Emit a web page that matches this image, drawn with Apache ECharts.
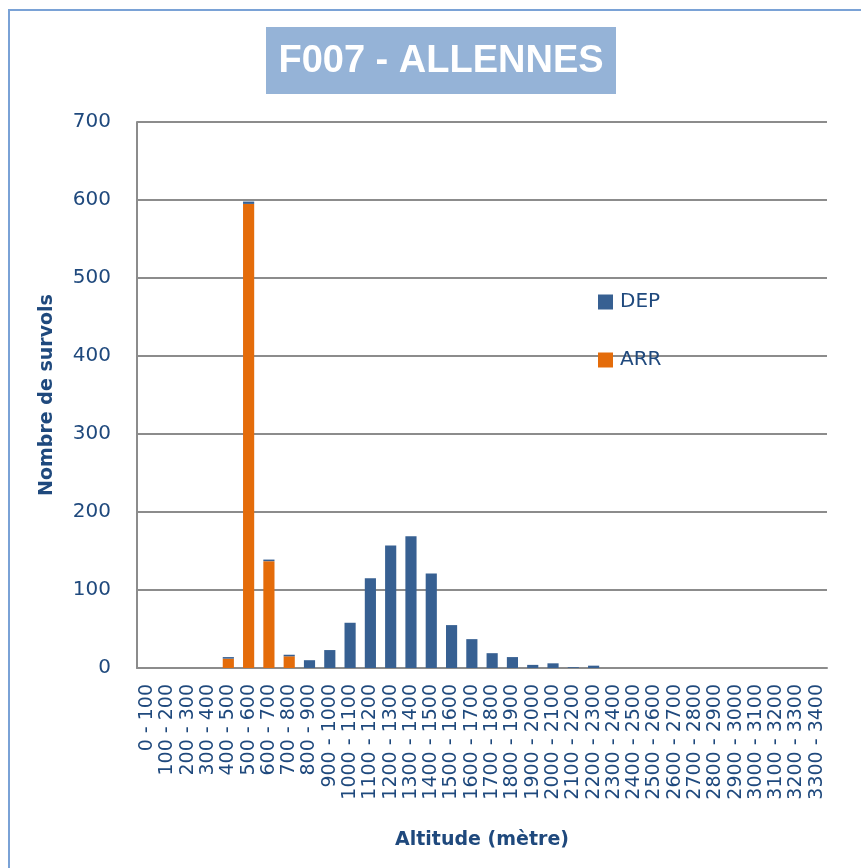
<!DOCTYPE html>
<html>
<head>
<meta charset="utf-8">
<script src="https://cdn.jsdelivr.net/npm/echarts@6/dist/echarts.min.js"></script>
<style>
  html, body { margin: 0; padding: 0; background: #fff; }
  #chart-area { width: 861px; height: 868px; }
</style>
</head>
<body>
<div id="chart-area"></div>
<script>
// tranches d'altitude
const altitudes = ['0 - 100', '100 - 200', '200 - 300', '300 - 400', '400 - 500', '500 - 600', '600 - 700',
	'700 - 800', '800 - 900', '900 - 1000', '1000 - 1100', '1100 - 1200', '1200 - 1300', '1300 - 1400',
	'1400 - 1500', '1500 - 1600', '1600 - 1700', '1700 - 1800', '1800 - 1900', '1900 - 2000', '2000 - 2100',
	'2100 - 2200', '2200 - 2300', '2300 - 2400', '2400 - 2500', '2500 - 2600', '2600 - 2700', '2700 - 2800',
	'2800 - 2900', '2900 - 3000', '3000 - 3100', '3100 - 3200', '3200 - 3300', '3300 - 3400']
const arrData = [0, 0, 0, 0, 12, 595, 137, 15, 0, 0, 0, 0, 0, 0, 0, 0, 0, 0, 0, 0, 0, 0, 0, 0, 0, 0, 0, 0, 0, 0, 0, 0, 0, 0]
const depData = [0, 0, 0, 0, 2, 3, 2, 2, 10, 23, 58, 115, 157, 169, 121, 55, 37, 19, 14, 4, 6, 1, 3, 0, 0, 0, 0, 0, 0, 0, 0, 0, 0, 0]
const yTicks = [0, 700, 100] // min, max, interval

const textColor = '#1F497D'
const gridColor = '#8C8C8C'

const myChart = echarts.init(document.getElementById('chart-area'))
const option = {
	animation: false,
	graphic: [
		{
			type: 'rect',
			shape: { x: 9, y: 10, width: 900, height: 900 },
			style: { fill: 'none', stroke: '#7AA2D6', lineWidth: 2 }
		},
		{
			type: 'rect',
			shape: { x: 266, y: 27, width: 350, height: 67 },
			style: { fill: '#95B3D7' }
		},
		{
			type: 'text',
			x: 441, y: 62,
			style: {
				text: 'F007 - ALLENNES',
				fill: '#fff',
				font: 'bold 38px "Liberation Sans", sans-serif',
				align: 'center',
				verticalAlign: 'middle'
			}
		}
	],
	grid: { show: false, left: 137, right: 34, top: 122, bottom: 200 },
	legend: {
		data: ['DEP', 'ARR'],
		orient: 'vertical',
		left: 593,
		top: 287,
		itemWidth: 15,
		itemHeight: 15,
		itemGap: 38,
		icon: 'rect',
		textStyle: { color: textColor, fontSize: 20, fontFamily: 'DejaVu Sans', padding: [0, 0, 0, 2] }
	},
	xAxis: {
		type: 'category',
		data: altitudes,
		name: 'Altitude (mètre)',
		nameLocation: 'middle',
		nameGap: 163,
		nameTextStyle: { color: textColor, fontSize: 19, fontWeight: 'bold', fontFamily: 'DejaVu Sans' },
		axisLine: { lineStyle: { color: gridColor, width: 2 } },
		axisTick: { show: false },
		splitLine: { show: false },
		splitArea: { show: false },
		axisLabel: {
			interval: 0,
			rotate: 90,
			margin: 16,
			color: textColor,
			fontSize: 19,
			fontFamily: 'DejaVu Sans'
		}
	},
	yAxis: {
		type: 'value',
		min: yTicks[0],
		max: yTicks[1],
		interval: yTicks[2],
		name: 'Nombre de survols',
		nameLocation: 'middle',
		nameGap: 80,
		nameTextStyle: { color: textColor, fontSize: 19, fontWeight: 'bold', fontFamily: 'DejaVu Sans' },
		axisLine: { show: true, lineStyle: { color: gridColor, width: 2 } },
		axisTick: { show: false },
		splitLine: { lineStyle: { color: gridColor, width: 2 } },
		axisLabel: { color: textColor, fontSize: 20, fontFamily: 'DejaVu Sans', margin: 26 }
	},
	series: [
		{
			name: 'ARR',
			type: 'bar',
			stack: 'total',
			barWidth: '55%',
			itemStyle: { color: '#E46C0A' },
			data: arrData
		},
		{
			name: 'DEP',
			type: 'bar',
			stack: 'total',
			barWidth: '55%',
			itemStyle: { color: '#376092' },
			data: depData
		}
	]
}
option && myChart.setOption(option)
</script>
</body>
</html>
